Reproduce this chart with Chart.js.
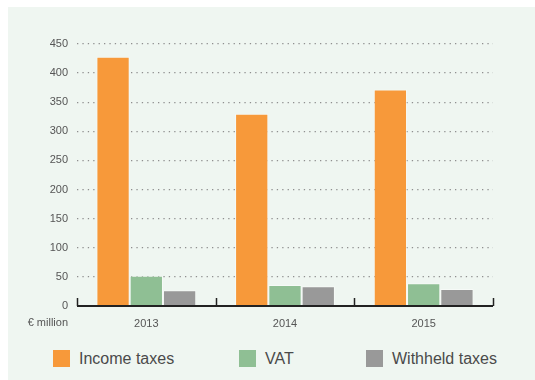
<!DOCTYPE html>
<html>
<head>
<meta charset="utf-8">
<script src="https://cdn.jsdelivr.net/npm/chart.js@4/dist/chart.umd.min.js"></script>
<style>
  body { margin: 0; background: #fff; font-family: "Liberation Sans", Arial, sans-serif; }
  #panel { position: absolute; left: 8px; top: 7px; width: 527px; height: 373px; background: #eff6f1; }
  #wrap { position: absolute; left: 0; top: 0; width: 527px; height: 332px; }
  #legend { position: absolute; left: 0; top: 343px; width: 527px; height: 20px; }
  .item { position: absolute; top: 0; height: 17px; }
  .box { position: absolute; left: 0; top: 0; width: 17px; height: 17px; }
  .txt { position: absolute; left: 26px; top: -1px; font-size: 16px; color: #4a4a4a; white-space: nowrap; line-height: 19px; }
</style>
</head>
<body>
<div id="panel">
  <div id="wrap"><canvas id="chart0"></canvas></div>
  <div id="legend"></div>
</div>
<script>
// data
const years = ['2013', '2014', '2015'];
const incomeTaxes = [428, 330, 372];
const vat = [52, 36, 39];
const withheldTaxes = [27, 34, 29];
const yTicks = [0, 50, 100, 150, 200, 250, 300, 350, 400, 450];

const seriesNames = ['Income taxes', 'VAT', 'Withheld taxes'];
const seriesColors = ['#f7993a', '#8fbf94', '#999999'];
const legendLeft = [45, 231, 358];

const font = "'Liberation Sans', Arial, sans-serif";

// x axis line, upward ticks and unit label
const axisDeco = {
  id: 'axisDeco',
  afterDraw(chart) {
    const ctx = chart.ctx;
    const area = chart.chartArea;
    ctx.save();
    ctx.strokeStyle = '#222';
    ctx.lineWidth = 2;
    ctx.beginPath();
    ctx.moveTo(area.left, area.bottom);
    ctx.lineTo(area.right, area.bottom);
    ctx.stroke();
    ctx.lineWidth = 1.5;
    const step = (area.right - area.left) / years.length;
    for (let i = 0; i <= years.length; i++) {
      const px = Math.round(area.left + step * i) + 0.5;
      ctx.beginPath();
      ctx.moveTo(px, area.bottom);
      ctx.lineTo(px, area.bottom - 8);
      ctx.stroke();
    }
    ctx.fillStyle = '#555';
    ctx.font = '11px ' + font;
    ctx.textAlign = 'right';
    ctx.textBaseline = 'middle';
    ctx.fillText('€ million', area.left - 9, area.bottom + 17);
    ctx.restore();
  }
};

const datasets = [incomeTaxes, vat, withheldTaxes].map((d, i) => ({
  label: seriesNames[i],
  data: d,
  backgroundColor: seriesColors[i],
  borderColor: 'rgba(255,255,255,0.45)',
  borderWidth: 1,
  borderSkipped: 'bottom',
  barPercentage: 1,
  categoryPercentage: 0.72
}));

let myChart = new Chart(document.getElementById('chart0').getContext('2d'), {
  type: 'bar',
  data: { labels: years, datasets: datasets },
  options: {
    responsive: true,
    maintainAspectRatio: false,
    animation: false,
    layout: { padding: { top: 37, right: 42, left: 0, bottom: 0 } },
    plugins: {
      legend: { display: false },
      tooltip: { enabled: false }
    },
    scales: {
      x: {
        grid: { display: false, drawTicks: false },
        border: { display: false },
        ticks: { color: '#555', font: { family: font, size: 11 }, padding: 11 },
        afterFit(scale) { scale.height = 33; }
      },
      y: {
        min: 0,
        max: 450,
        afterBuildTicks(scale) { scale.ticks = yTicks.map(v => ({ value: v })); },
        afterFit(scale) { scale.width = 69; },
        border: { display: false, dash: [1.3, 4.1] },
        grid: {
          color: ctx => ctx.tick.value === 0 ? 'rgba(0,0,0,0)' : '#8f8f8f',
          lineWidth: 1.3,
          drawTicks: false
        },
        ticks: { color: '#555', font: { family: font, size: 11 }, padding: 9 }
      }
    }
  },
  plugins: [axisDeco]
});

// legend built from the datasets
const legend = document.getElementById('legend');
myChart.data.datasets.forEach((ds, i) => {
  const item = document.createElement('div');
  item.className = 'item';
  item.style.left = legendLeft[i] + 'px';
  item.innerHTML = '<div class="box" style="background:' + ds.backgroundColor + '"></div>' +
                   '<div class="txt">' + ds.label + '</div>';
  legend.appendChild(item);
});
</script>
</body>
</html>
